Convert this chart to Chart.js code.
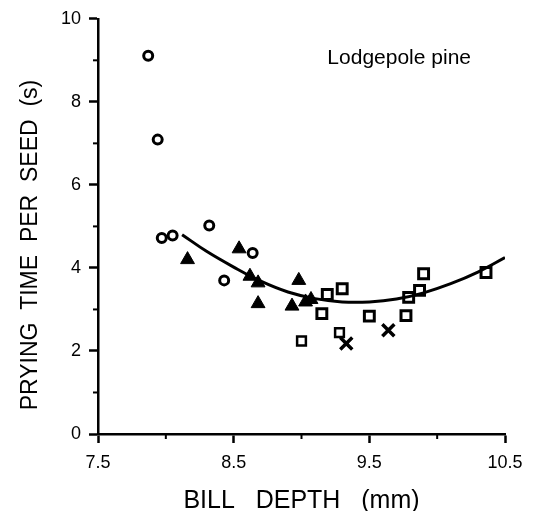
<!DOCTYPE html>
<html>
<head>
<meta charset="utf-8">
<script src="https://cdn.jsdelivr.net/npm/chart.js@4"></script>
<style>body{margin:0;background:#fff}</style>
</head>
<body>
<canvas id="myChart" width="542" height="511"></canvas>
<script>
// values
const circleX = [7.87, 7.94, 7.97, 8.05, 8.32, 8.43, 8.64];
const circleY = [9.11, 7.09, 4.72, 4.78, 5.02, 3.70, 4.36];

const triX = [8.16, 8.54, 8.62, 8.68, 8.68, 8.98, 8.93, 9.03, 9.07];
const triY = [4.20, 4.46, 3.80, 3.64, 3.14, 3.70, 3.08, 3.18, 3.24];

const sqX = [9.15, 9.19, 9.30, 9.50, 9.77, 9.79, 9.87, 9.90, 10.36];
const sqY = [2.90, 3.36, 3.50, 2.84, 2.85, 3.29, 3.46, 3.86, 3.89];

const dotSqX = [9.00, 9.28];
const dotSqY = [2.24, 2.44];

const crossX = [9.33, 9.64];
const crossY = [2.18, 2.50];

// fitted curve
const curveX = [8.12, 8.30, 8.50, 8.70, 8.90, 9.10, 9.30, 9.50, 9.70, 9.90, 10.10, 10.30, 10.50];
const curveY = [4.80, 4.40, 4.02, 3.68, 3.42, 3.26, 3.18, 3.18, 3.25, 3.40, 3.62, 3.90, 4.25];

const xTicks = [7.5, 8.5, 9.5, 10.5];
const xMinor = [8, 9, 10];
const yTicks = [0, 2, 4, 6, 8, 10];
const yMinor = [1, 3, 5, 7, 9];

const FONT = '"Liberation Sans", Arial, sans-serif';
const pts = (xs, ys) => xs.map((x, i) => ({x: x, y: ys[i]}));

// short unlabeled ticks, y title and the note
const extras = {
    id: 'extras',
    afterDraw(chart) {
        const c = chart.ctx, xs = chart.scales.x, ys = chart.scales.y;
        const a = chart.chartArea;
        c.save();
        c.strokeStyle = '#000';
        c.lineWidth = 2;
        xMinor.forEach(v => {
            const p = xs.getPixelForValue(v);
            c.beginPath(); c.moveTo(p, a.bottom); c.lineTo(p, a.bottom + 5); c.stroke();
        });
        yMinor.forEach(v => {
            const p = ys.getPixelForValue(v);
            c.beginPath(); c.moveTo(a.left - 5, p); c.lineTo(a.left, p); c.stroke();
        });
        c.fillStyle = '#000';
        c.textAlign = 'center';
        c.textBaseline = 'middle';
        c.font = '21px ' + FONT;
        c.fillText('Lodgepole pine', xs.getPixelForValue(9.72), ys.getPixelForValue(9.06));
        // y title, a bit below the middle of the axis like the original
        c.translate(31, ys.getPixelForValue(4.55));
        c.rotate(-Math.PI / 2);
        c.font = '23px ' + FONT;
        c.fillText('PRYING  TIME  PER  SEED  (s)', 0, 0);
        c.restore();
    }
};

const ctx = document.getElementById('myChart').getContext('2d');
const myChart = new Chart(ctx, {
    type: 'scatter',
    data: {
        datasets: [
            {data: pts(curveX, curveY), showLine: true, borderColor: '#000', borderWidth: 3,
             pointRadius: 0, tension: 0.4, fill: false},
            {data: pts(circleX, circleY), pointStyle: 'circle', pointRadius: 4.5,
             borderColor: '#000', borderWidth: 3, backgroundColor: '#fff'},
            {data: pts(triX, triY), pointStyle: 'triangle', pointRadius: 8,
             borderColor: '#000', borderWidth: 1, backgroundColor: '#000'},
            {data: pts(sqX, sqY), pointStyle: 'rect', pointRadius: 7,
             borderColor: '#000', borderWidth: 3, backgroundColor: '#fff'},
            {data: pts(dotSqX, dotSqY), pointStyle: 'rect', pointRadius: 6.2,
             borderColor: '#000', borderWidth: 2.5, backgroundColor: '#fff'},
            {data: pts(dotSqX, dotSqY), pointStyle: 'circle', pointRadius: 1.3,
             borderColor: '#000', borderWidth: 0, backgroundColor: '#000'},
            {data: pts(crossX, crossY), pointStyle: 'crossRot', pointRadius: 8.5,
             borderColor: '#000', borderWidth: 3.5}
        ]
    },
    options: {
        responsive: false,
        animation: false,
        layout: {padding: {top: 18, right: 37, left: 0, bottom: 0}},
        plugins: {legend: {display: false}, tooltip: {enabled: false}},
        scales: {
            x: {
                type: 'linear', min: 7.5, max: 10.5,
                afterBuildTicks: s => { s.ticks = xTicks.map(v => ({value: v})); },
                afterFit: s => { s.height = 77; },
                grid: {drawOnChartArea: false, drawTicks: true, tickLength: 9, tickWidth: 2.5, tickColor: '#000'},
                border: {color: '#000', width: 2.5},
                ticks: {color: '#000', padding: 9, maxRotation: 0,
                        font: {family: FONT, size: 18}},
                title: {display: true, text: 'BILL   DEPTH   (mm)', color: '#000', padding: {top: 0, bottom: 0},
                        font: {family: FONT, size: 25, lineHeight: 0.8}}
            },
            y: {
                type: 'linear', min: 0, max: 10,
                afterBuildTicks: s => { s.ticks = yTicks.map(v => ({value: v})); },
                afterFit: s => { s.width = 98; },
                grid: {drawOnChartArea: false, drawTicks: true, tickLength: 9, tickWidth: 2.5, tickColor: '#000'},
                border: {color: '#000', width: 2.5},
                ticks: {color: '#000', padding: 8,
                        font: {family: FONT, size: 18}},
                title: {display: false}
            }
        }
    },
    plugins: [extras]
});
</script>
</body>
</html>
